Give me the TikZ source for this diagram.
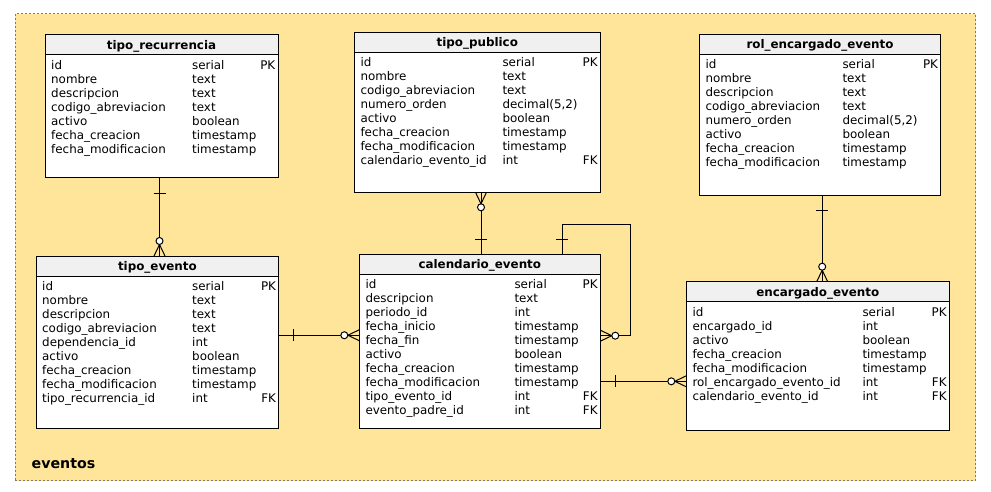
\documentclass[tikz,border=0pt]{standalone}
\usepackage{fontspec}
\setmainfont{DejaVu Sans}
\usetikzlibrary{calc}
\definecolor{bgyellow}{HTML}{FFE599}
\definecolor{hdrgray}{HTML}{F0F0F0}
\definecolor{dashgray}{HTML}{7A7A7A}
\tikzset{
  tbl/.style={draw=black, fill=white, line width=1pt, rectangle, inner sep=0pt, outer sep=0pt, anchor=north west},
  hdrbox/.style={draw=black, fill=hdrgray, line width=1pt, rectangle, inner sep=0pt, outer sep=0pt, anchor=north west, minimum height=20pt},
  hdrtxt/.style={inner sep=0pt, anchor=base, font=\fontsize{11.9}{14}\selectfont\bfseries},
  fld/.style={inner sep=0pt, font=\fontsize{11.9}{14}\selectfont},
  conn/.style={line width=1pt, draw=black},
  zmany/.pic={\draw[conn] (11.5,0) -- (0,5.5) (11.5,0) -- (0,-5.5); \draw[conn, fill=white] (15,0) circle[radius=3.5pt];},
  onebar/.pic={\draw[conn] (15,-6) -- (15,6);},
}
\newcommand\ertable[8]{%
  \node[tbl, minimum width=#4pt, minimum height=#5pt] (#1) at (#2,-#3) {};
  \node[hdrbox, minimum width=#4pt] (#1-hdr) at (#1.north west) {};
  \node[hdrtxt] (#1-title) at ($(#1.north)+(0,-14.5)$) {#7};
  \foreach \fa/\ty/\ky [count=\i from 0] in {#8} {
    \node[fld, anchor=base west] (#1-f\i) at ($(#1.north west)+(6,-34.5-14*\i)$) {\fa};
    \node[fld, anchor=base west] (#1-t\i) at ($(#1.north west)+(#6,-34.5-14*\i)$) {\ty};
    \node[fld, anchor=base east] (#1-k\i) at ($(#1.north east)+(-2.5,-34.5-14*\i)$) {\ky};
  }%
}
\begin{document}
\begin{tikzpicture}[x=1pt,y=1pt]
\useasboundingbox (0,0) rectangle (991,-492);
\node[draw=dashgray, line width=1pt, dash pattern=on 2pt off 2pt, fill=bgyellow, rectangle, inner sep=0pt, outer sep=0pt, anchor=north west, minimum width=960.4pt, minimum height=467pt] (eventosbox) at (15.3,-13.7) {};
\node[anchor=base west, inner sep=0pt, font=\fontsize{14.2}{16}\selectfont\bfseries] (lbl) at (31.5,-468) {eventos};

\ertable{tr}{45}{35}{233}{143}{147}{tipo\_recurrencia}{id/serial/PK, nombre/text/{}, descripcion/text/{}, codigo\_abreviacion/text/{}, activo/boolean/{}, fecha\_creacion/timestamp/{}, fecha\_modificacion/timestamp/{}}
\ertable{tp}{354.3}{32.3}{246}{160}{148}{tipo\_publico}{id/serial/PK, nombre/text/{}, codigo\_abreviacion/text/{}, numero\_orden/{decimal(5,2)}/{}, activo/boolean/{}, fecha\_creacion/timestamp/{}, fecha\_modificacion/timestamp/{}, calendario\_evento\_id/int/FK}
\ertable{re}{699.3}{34.3}{241.4}{161}{143}{rol\_encargado\_evento}{id/serial/PK, nombre/text/{}, descripcion/text/{}, codigo\_abreviacion/text/{}, numero\_orden/{decimal(5,2)}/{}, activo/boolean/{}, fecha\_creacion/timestamp/{}, fecha\_modificacion/timestamp/{}}
\ertable{te}{36}{256}{242.7}{172.3}{156}{tipo\_evento}{id/serial/PK, nombre/text/{}, descripcion/text/{}, codigo\_abreviacion/text/{}, dependencia\_id/int/{}, activo/boolean/{}, fecha\_creacion/timestamp/{}, fecha\_modificacion/timestamp/{}, tipo\_recurrencia\_id/int/FK}
\ertable{ce}{359.3}{254.3}{241}{174}{155}{calendario\_evento}{id/serial/PK, descripcion/text/{}, periodo\_id/int/{}, fecha\_inicio/timestamp/{}, fecha\_fin/timestamp/{}, activo/boolean/{}, fecha\_creacion/timestamp/{}, fecha\_modificacion/timestamp/{}, tipo\_evento\_id/int/FK, evento\_padre\_id/int/FK}
\ertable{ee}{686.3}{281.7}{263}{148.7}{176}{encargado\_evento}{id/serial/PK, encargado\_id/int/{}, activo/boolean/{}, fecha\_creacion/timestamp/{}, fecha\_modificacion/timestamp/{}, rol\_encargado\_evento\_id/int/FK, calendario\_evento\_id/int/FK}

% tipo_recurrencia -> tipo_evento
\draw[conn] ($(tr.south)+(-2,0)$) coordinate (c1a) -- (c1a |- te.north) coordinate (c1b);
\pic[rotate=-90] at (c1a) {onebar};
\pic[rotate=90] at (c1b) {zmany};
% tipo_publico -> calendario_evento
\draw[conn] ($(tp.south)+(3.7,0)$) coordinate (c2a) -- (c2a |- ce.north) coordinate (c2b);
\pic[rotate=-90] at (c2a) {zmany};
\pic[rotate=90] at (c2b) {onebar};
% calendario_evento self loop
\coordinate (c3a) at ($(ce.north)+(82.6,0)$);
\coordinate (c3b) at ($(ce.east)+(0,5.6)$);
\draw[conn] (c3a) -- ++(0,30) -| ($(c3b)+(30.4,0)$) -- (c3b);
\pic[rotate=90] at (c3a) {onebar};
\pic at (c3b) {zmany};
% tipo_evento -> calendario_evento
\draw[conn] ($(te.east)+(0,6.9)$) coordinate (c4a) -- (c4a -| ce.west) coordinate (c4b);
\pic at (c4a) {onebar};
\pic[rotate=180] at (c4b) {zmany};
% calendario_evento -> encargado_evento
\draw[conn] ($(ce.east)+(0,-40)$) coordinate (c5a) -- (c5a -| ee.west) coordinate (c5b);
\pic at (c5a) {onebar};
\pic[rotate=180] at (c5b) {zmany};
% rol_encargado_evento -> encargado_evento
\draw[conn] ($(re.south)+(2.2,0)$) coordinate (c6a) -- (c6a |- ee.north) coordinate (c6b);
\pic[rotate=-90] at (c6a) {onebar};
\pic[rotate=90] at (c6b) {zmany};
\end{tikzpicture}
\end{document}
